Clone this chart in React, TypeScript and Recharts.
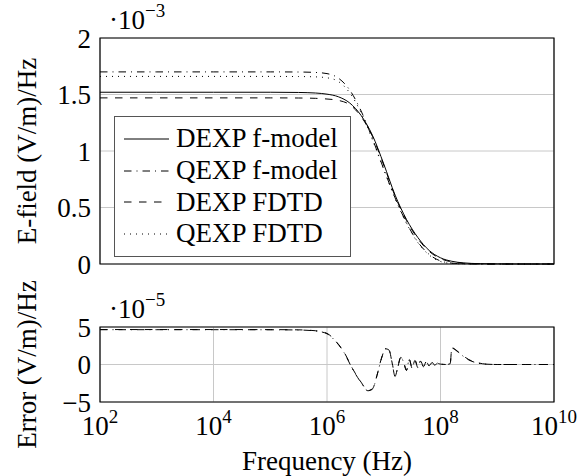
import { LineChart, Line, XAxis, YAxis, CartesianGrid, ReferenceArea, Legend, Label } from "recharts";

const FONT = '"Liberation Serif", "Times New Roman", serif';
const FS = 27;
const SUP = 19;

// log10 of the frequency in Hz
const freqExp = [2, 3, 4, 5, 5.5, 5.8, 6, 6.2, 6.4, 6.6, 6.8, 7, 7.2, 7.4, 7.6, 7.8, 8, 8.2, 8.4, 8.7, 9, 9.5, 10];
// E-field, units of 1e-3 (V/m)/Hz
const dexpModel = [1.52, 1.52, 1.52, 1.52, 1.518, 1.513, 1.503, 1.48, 1.425, 1.315, 1.14, 0.885, 0.61, 0.395, 0.235, 0.12, 0.055, 0.024, 0.01, 0.003, 0.001, 0, 0];
const qexpModel = [1.7, 1.7, 1.7, 1.7, 1.699, 1.695, 1.685, 1.645, 1.54, 1.355, 1.11, 0.84, 0.585, 0.365, 0.195, 0.085, 0.027, 0.008, 0.002, 0, 0, 0, 0];
const dexpFdtd = [1.47, 1.47, 1.47, 1.47, 1.469, 1.466, 1.46, 1.448, 1.41, 1.305, 1.13, 0.875, 0.6, 0.385, 0.225, 0.112, 0.048, 0.018, 0.006, 0.001, 0, 0, 0];
const qexpFdtd = [1.66, 1.66, 1.66, 1.66, 1.659, 1.656, 1.648, 1.615, 1.515, 1.34, 1.1, 0.835, 0.58, 0.36, 0.19, 0.08, 0.022, 0.005, 0.001, 0, 0, 0, 0];

// error plot, units of 1e-5 (V/m)/Hz
const errFreqExp = [2, 3, 4, 5, 5.5, 5.8, 6, 6.15, 6.3, 6.45, 6.6, 6.72, 6.8, 6.88, 6.96, 7.03, 7.09, 7.15, 7.2, 7.25, 7.3, 7.35, 7.4, 7.45, 7.5, 7.55, 7.6, 7.65, 7.7, 7.75, 7.8, 7.85, 7.9, 7.95, 8, 8.1, 8.17, 8.2, 8.27, 8.35, 8.5, 8.65, 8.8, 9, 9.5, 10];
const dexpError = [4.66, 4.66, 4.66, 4.65, 4.62, 4.5, 4.15, 3.15, 1.65, -0.55, -2.35, -3.45, -3.25, -1.45, 0.85, 2.1, 1.95, 0.15, -1.55, -0.25, 0.95, 0.35, -0.75, 0.65, -0.45, 0.55, -0.35, 0.45, -0.25, 0.35, -0.15, 0.25, -0.05, 0.15, 0.05, 0, 0.05, 2.25, 1.95, 1.45, 0.65, 0.25, 0.05, 0, 0, 0];
const qexpError = [4.64, 4.64, 4.64, 4.63, 4.6, 4.47, 4.1, 3.1, 1.6, -0.6, -2.4, -3.5, -3.3, -1.5, 0.8, 2.1, 2.0, 0.1, -1.6, -0.3, 1.0, 0.3, -0.8, 0.7, -0.5, 0.6, -0.4, 0.5, -0.3, 0.4, -0.2, 0.3, -0.1, 0.2, 0.05, 0, 0.1, 2.2, 1.9, 1.4, 0.6, 0.2, 0.05, 0, 0, 0];

const xTicks = [2, 4, 6, 8, 10];
const fieldTicks = [0, 0.5, 1, 1.5, 2];
const errorTicks = [-5, 0, 5];

const DASHED = "7.5 7.5";
const DASHDOT = "7.5 5 1 5";
const DOTTED = "1 5";

const series = [
  { key: "dexpModel", name: "DEXP f-model", dash: undefined },
  { key: "qexpModel", name: "QEXP f-model", dash: DASHDOT },
  { key: "dexpFdtd", name: "DEXP FDTD", dash: DASHED },
  { key: "qexpFdtd", name: "QEXP FDTD", dash: DOTTED },
];

const fieldData = freqExp.map((f, i) => ({
  f,
  dexpModel: dexpModel[i],
  qexpModel: qexpModel[i],
  dexpFdtd: dexpFdtd[i],
  qexpFdtd: qexpFdtd[i],
}));

const errorData = errFreqExp.map((f, i) => ({ f, dexpError: dexpError[i], qexpError: qexpError[i] }));

const minus = (v: number) => (v < 0 ? `\u2212${Math.abs(v)}` : String(v));

function PowerTick({ x, y, payload }: any) {
  return (
    <text x={x} y={y + 33} textAnchor="middle" fontFamily={FONT} fontSize={FS} fill="#000">
      <tspan>10</tspan>
      <tspan dy={-12} fontSize={SUP}>{payload.value}</tspan>
    </text>
  );
}

// the "·10^n" factor written above the y axis
const scaleLabel = (exp: string) => ({ viewBox }: any) => (
  <text x={viewBox.x + viewBox.width + 9} y={viewBox.y - 9} fontFamily={FONT} fontSize={FS} fill="#000">
    <tspan>·10</tspan>
    <tspan dy={-12} fontSize={SUP}>{exp}</tspan>
  </text>
);

const sideLabel = (text: string) => ({ viewBox }: any) => {
  const cx = 36;
  const cy = viewBox.y + viewBox.height / 2;
  return (
    <text x={cx} y={cy} transform={`rotate(-90, ${cx}, ${cy})`} textAnchor="middle" fontFamily={FONT} fontSize={FS} fill="#000">
      {text}
    </text>
  );
};

function LegendBox() {
  return (
    <div
      style={{
        width: 237,
        height: 141,
        boxSizing: "border-box",
        border: "1px solid #555",
        background: "#fff",
        padding: "6px 0 0 9px",
        fontFamily: FONT,
        fontSize: FS,
        color: "#000",
      }}
    >
      {series.map((s) => (
        <div key={s.key} style={{ display: "flex", alignItems: "center", height: 31.7 }}>
          <svg width={45} height={10} style={{ marginRight: 7 }}>
            <line x1={0} y1={5} x2={45} y2={5} stroke="#000" strokeWidth={1} strokeDasharray={s.dash} />
          </svg>
          <span style={{ lineHeight: 1 }}>{s.name}</span>
        </div>
      ))}
    </div>
  );
}

const tickStyle = { fontSize: FS, fontFamily: FONT, fill: "#000" };

export default function App() {
  return (
    <div style={{ position: "absolute", left: 0, top: 0, width: 587, height: 476, background: "#fff" }}>
      <div style={{ position: "absolute", left: 0, top: 0 }}>
        <LineChart width={587} height={290} data={fieldData} margin={{ top: 38, right: 33, bottom: 0, left: 0 }}>
          <CartesianGrid stroke="#c8c8c8" strokeWidth={1} />
          <XAxis
            dataKey="f"
            type="number"
            domain={[2, 10]}
            ticks={xTicks}
            tick={false}
            tickLine={false}
            axisLine={false}
            height={26}
          />
          <YAxis
            type="number"
            domain={[0, 2]}
            ticks={fieldTicks}
            interval={0}
            width={100}
            tickSize={0}
            tickMargin={9}
            axisLine={false}
            tickLine={false}
            tick={tickStyle}
          >
            <Label content={scaleLabel("\u22123")} />
            <Label content={sideLabel("E-field (V/m)/Hz")} />
          </YAxis>
          <ReferenceArea x1={2} x2={10} y1={0} y2={2} fill="none" stroke="#000" strokeWidth={1.2} />
          {series.map((s) => (
            <Line
              key={s.key}
              type="monotone"
              dataKey={s.key}
              name={s.name}
              stroke="#000"
              strokeWidth={1}
              strokeDasharray={s.dash}
              dot={false}
              activeDot={false}
              isAnimationActive={false}
            />
          ))}
          <Legend
            layout="vertical"
            align="center"
            verticalAlign="middle"
            wrapperStyle={{ left: 114, top: 116, width: 237 }}
            content={() => <LegendBox />}
          />
        </LineChart>
      </div>
      <div style={{ position: "absolute", left: 0, top: 270 }}>
        <LineChart width={587} height={206} data={errorData} margin={{ top: 57, right: 33, bottom: 0, left: 0 }}>
          <CartesianGrid stroke="#c8c8c8" strokeWidth={1} />
          <XAxis
            dataKey="f"
            type="number"
            domain={[2, 10]}
            ticks={xTicks}
            tick={<PowerTick />}
            tickSize={0}
            tickMargin={0}
            tickLine={false}
            axisLine={false}
            height={74}
            interval={0}
          >
            <Label
              content={({ viewBox }: any) => (
                <text x={327} y={viewBox.y + 68} textAnchor="middle" fontFamily={FONT} fontSize={FS} fill="#000">
                  Frequency (Hz)
                </text>
              )}
            />
          </XAxis>
          <YAxis
            type="number"
            domain={[-5, 5]}
            ticks={errorTicks}
            interval={0}
            width={100}
            tickSize={0}
            tickMargin={9}
            axisLine={false}
            tickLine={false}
            tick={tickStyle}
            tickFormatter={minus}
          >
            <Label content={scaleLabel("\u22125")} />
            <Label content={sideLabel("Error (V/m)/Hz")} />
          </YAxis>
          <ReferenceArea x1={2} x2={10} y1={-5} y2={5} fill="none" stroke="#000" strokeWidth={1.2} />
          <Line
            type="monotone"
            dataKey="dexpError"
            stroke="#000"
            strokeWidth={1}
            strokeDasharray={DASHED}
            dot={false}
            activeDot={false}
            isAnimationActive={false}
          />
          <Line
            type="monotone"
            dataKey="qexpError"
            stroke="#000"
            strokeWidth={1}
            strokeDasharray={DASHDOT}
            dot={false}
            activeDot={false}
            isAnimationActive={false}
          />
        </LineChart>
      </div>
    </div>
  );
}
